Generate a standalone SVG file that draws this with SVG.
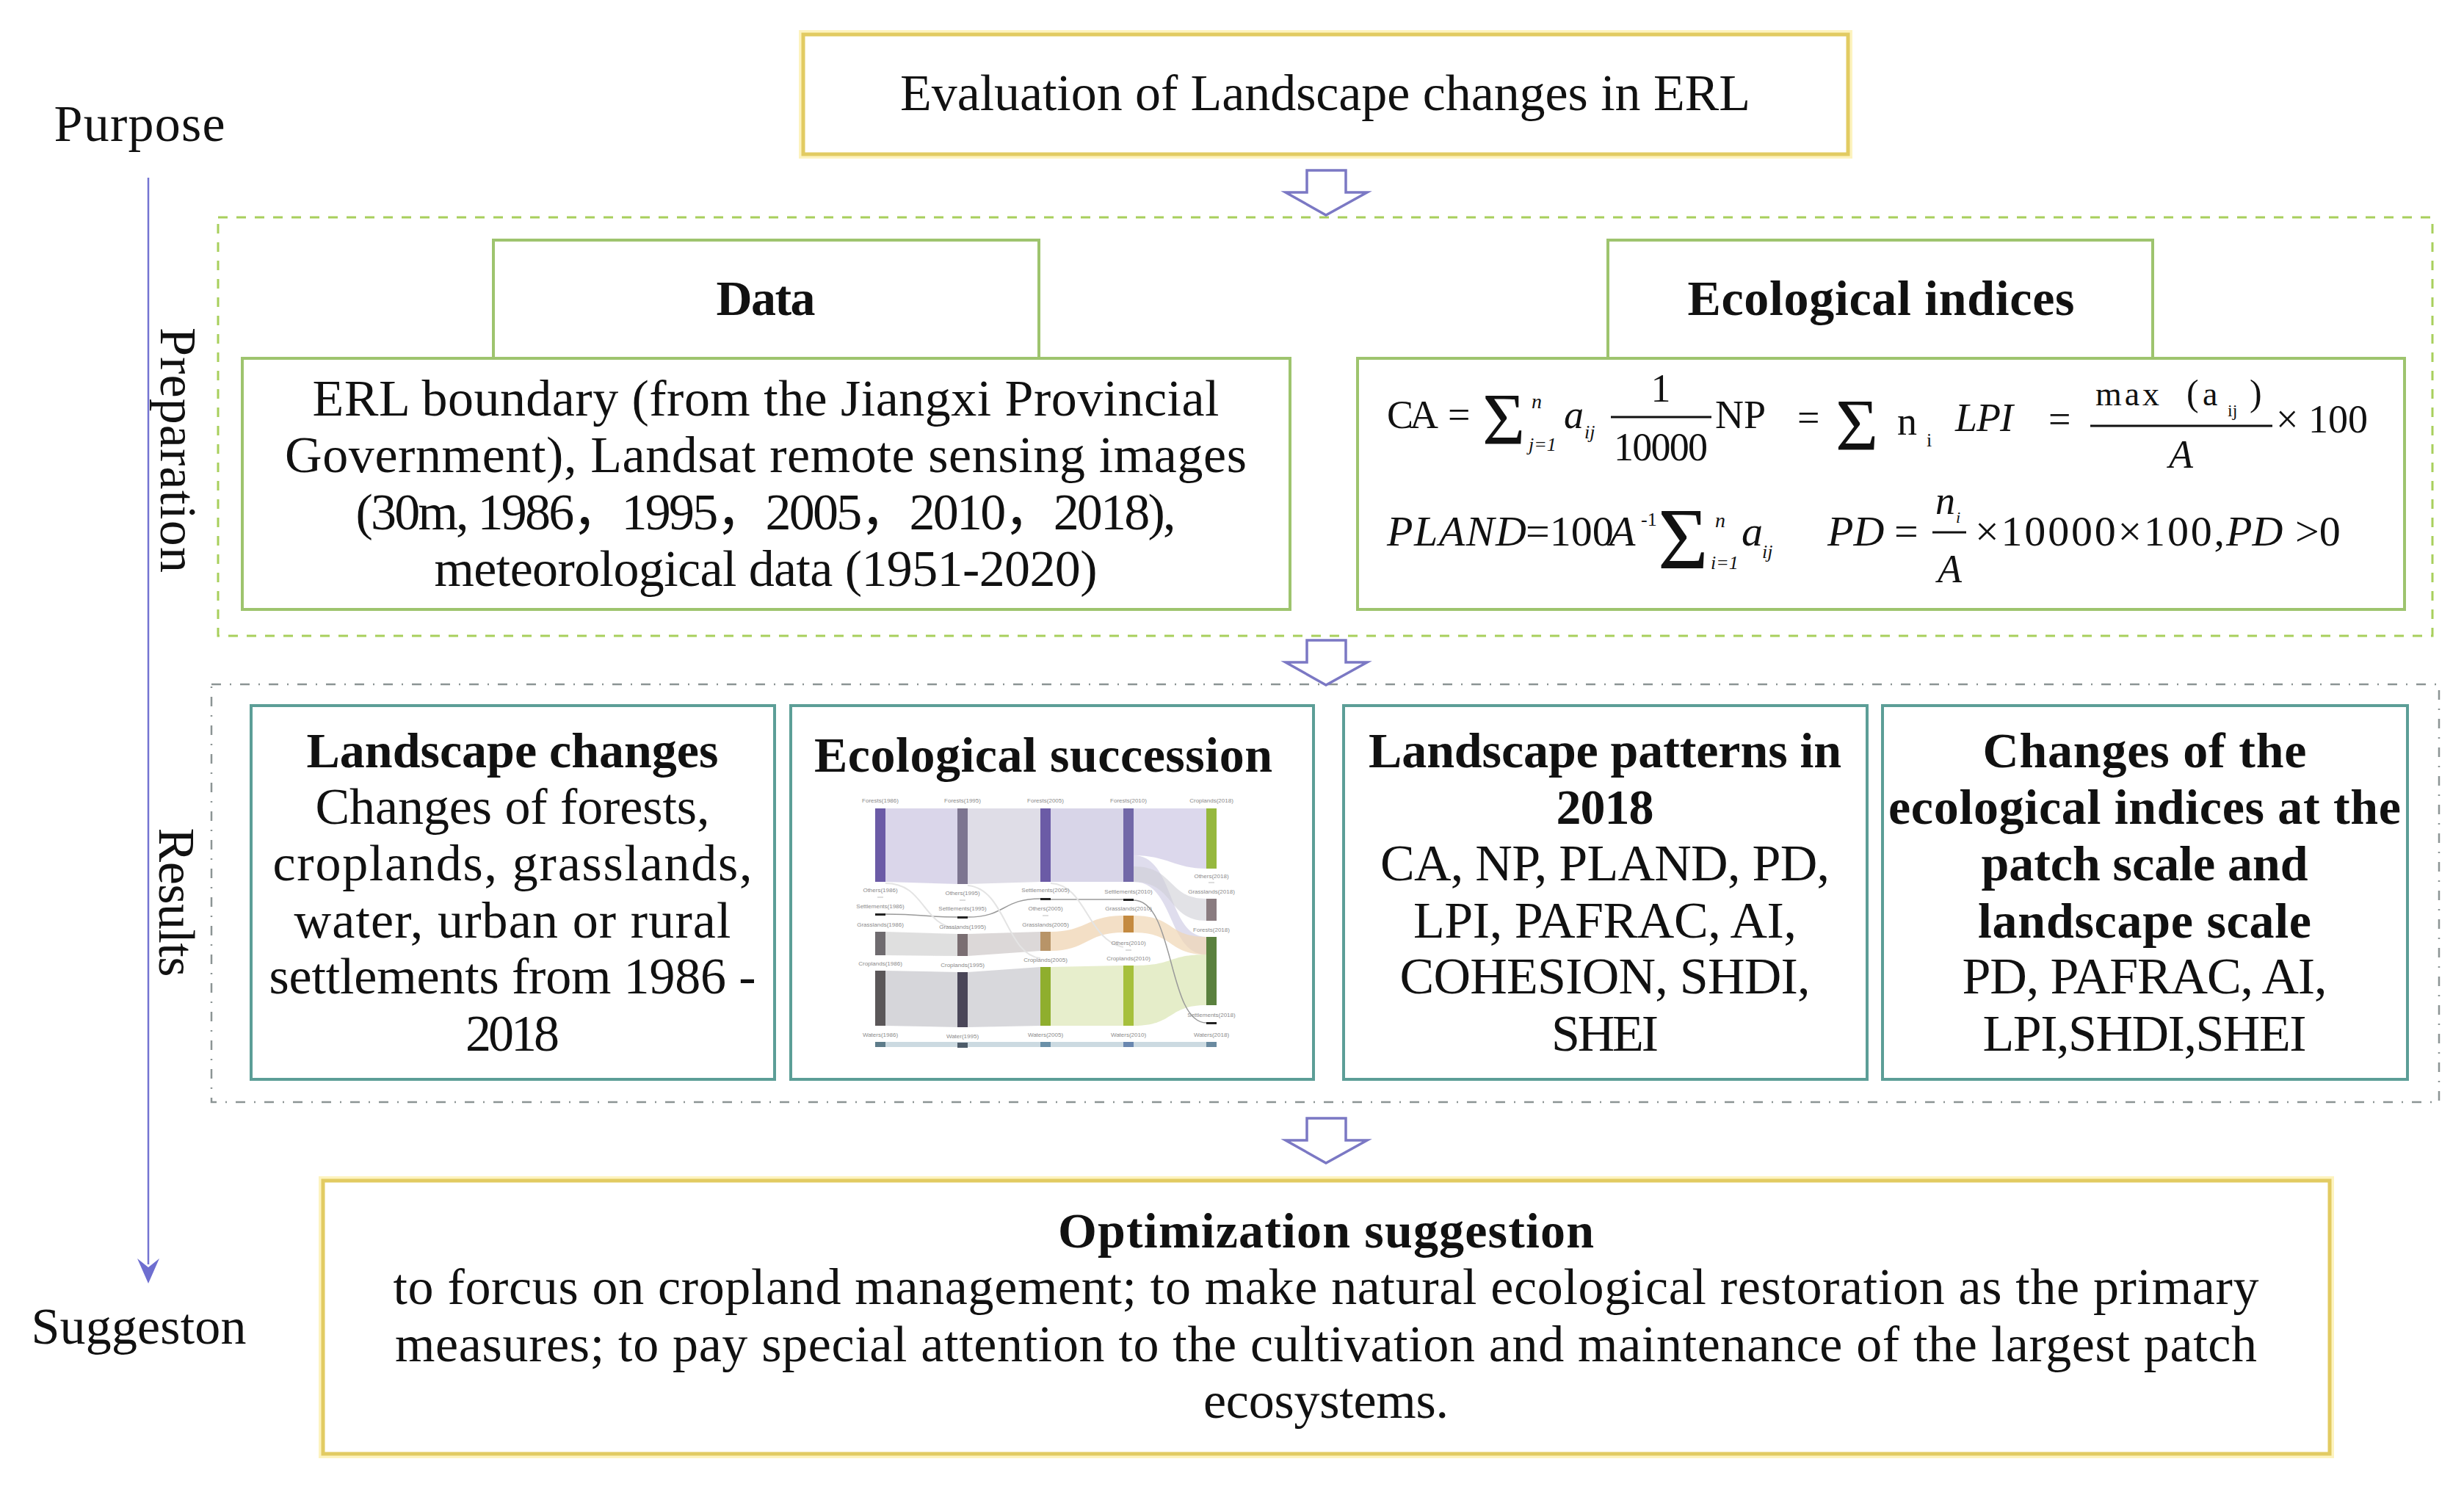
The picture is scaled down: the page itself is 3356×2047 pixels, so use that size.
<svg xmlns="http://www.w3.org/2000/svg" width="3356" height="2047" viewBox="0 0 3356 2047">
<defs>
<style>
.t{font-family:"Liberation Serif","Noto Sans CJK SC",serif;font-size:70px;fill:#111;}
.b{font-weight:bold;font-size:68px;}
.m{font-family:"Liberation Serif",serif;fill:#111;}
.i{font-style:italic;}
.gold{fill:#fff;stroke:#e2cb62;stroke-width:5;}
.goldglow{fill:none;stroke:#fdf3bf;stroke-width:12;}
.green{fill:#fff;stroke:#9ec46e;stroke-width:4;}
.teal{fill:#fff;stroke:#5c9e97;stroke-width:4;}
.arrow{fill:#fff;stroke:#7b78c4;stroke-width:3.5;stroke-linejoin:miter;}
.sl{font-family:"Liberation Sans",sans-serif;font-size:8px;fill:#8a8a8a;text-anchor:middle;}
.fl{opacity:0.9;}
</style>
<path id="hollow" d="M1780,0 L1833,0 L1833,30 L1862,30 L1806,61 L1751,30 L1780,30 Z"/>
</defs>
<rect width="3356" height="2047" fill="#fff"/>

<!-- side labels and timeline -->
<g id="timeline">
<text class="t" x="190" y="192" text-anchor="middle" textLength="233">Purpose</text>
<line x1="202" y1="242" x2="202" y2="1722" stroke="#7474d2" stroke-width="2.5"/>
<polygon points="187,1714 202,1748 217,1714 202,1726" fill="#6e6ed0"/>
<text class="t" transform="translate(219,613) rotate(90)" text-anchor="middle" textLength="334">Preparation</text>
<text class="t" transform="translate(217,1229) rotate(90)" text-anchor="middle" textLength="203">Results</text>
<text class="t" x="189" y="1830" text-anchor="middle" textLength="293">Suggeston</text>
</g>

<!-- container frames -->
<g id="preparation-frame">
<rect x="297" y="296" width="3016" height="570" fill="none" stroke="#a8cf5c" stroke-width="3" stroke-dasharray="13 12"/>
</g>
<g id="results-frame">
<rect x="288" y="932" width="3034" height="569" fill="none" stroke="#8c9494" stroke-width="2.5" stroke-dasharray="13 12 2 12"/>
</g>

<!-- connectors -->
<g id="connectors">
<use href="#hollow" class="arrow" transform="translate(0,232)"/>
<use href="#hollow" class="arrow" transform="translate(0,872)"/>
<use href="#hollow" class="arrow" transform="translate(0,1523)"/>
</g>

<g id="purpose">
<rect class="goldglow" x="1094" y="47" width="1423" height="163"/>
<rect class="gold" x="1094" y="47" width="1423" height="163"/>
<text class="t" x="1805" y="150" text-anchor="middle" textLength="1158">Evaluation of Landscape changes in ERL</text>
</g>

<g id="data">
<rect class="green" x="672" y="327" width="743" height="161"/>
<rect class="green" x="330" y="488" width="1427" height="342"/>
<text class="t b" x="1043" y="429" text-anchor="middle" textLength="135">Data</text>
<text class="t" x="1043" y="566" text-anchor="middle" textLength="1235">ERL boundary (from  the Jiangxi Provincial</text>
<text class="t" x="1043" y="643" text-anchor="middle" textLength="1310">Government), Landsat remote sensing images</text>
<text class="t" x="1043" y="721" text-anchor="middle" textLength="1117">(30m, 1986，1995，2005，2010，2018),</text>
<text class="t" x="1043" y="798" text-anchor="middle" textLength="903">meteorological data (1951-2020)</text>
</g>

<g id="ecological-indices">
<rect class="green" x="2190" y="327" width="742" height="161"/>
<rect class="green" x="1849" y="488" width="1426" height="342"/>
<text class="t b" x="2562" y="429" text-anchor="middle" textLength="527">Ecological indices</text>
<!-- formula line 1 -->
<text class="m" x="1889" y="583" font-size="54" textLength="70">CA</text>
<text class="m" x="1972" y="583" font-size="54">=</text>
<text class="m" x="2019" y="604" font-size="100">Σ</text>
<text class="m i" x="2086" y="556" font-size="28">n</text>
<text class="m i" x="2082" y="614" font-size="26">j=1</text>
<text class="m i" x="2130" y="583" font-size="54">a</text>
<text class="m i" x="2158" y="597" font-size="26">ij</text>
<text class="m" x="2262" y="547" font-size="54" text-anchor="middle">1</text>
<line x1="2194" y1="568" x2="2331" y2="568" stroke="#111" stroke-width="3"/>
<text class="m" x="2262" y="627" font-size="54" text-anchor="middle" textLength="128">10000</text>
<text class="m" x="2336" y="583" font-size="54">NP</text>
<text class="m" x="2448" y="587" font-size="54">=</text>
<text class="m" x="2500" y="612" font-size="100">Σ</text>
<text class="m" x="2584" y="592" font-size="54">n</text>
<text class="m" x="2624" y="608" font-size="26">i</text>
<text class="m i" x="2663" y="587" font-size="54" textLength="79">LPI</text>
<text class="m" x="2790" y="589" font-size="54">=</text>
<text class="m" x="2854" y="552" font-size="46" textLength="87">max</text>
<text class="m" x="2978" y="552" font-size="50">(</text>
<text class="m" x="3000" y="552" font-size="46">a</text>
<text class="m" x="3034" y="567" font-size="24">ij</text>
<text class="m" x="3064" y="552" font-size="50">)</text>
<line x1="2847" y1="580" x2="3095" y2="580" stroke="#111" stroke-width="3"/>
<text class="m i" x="2954" y="637" font-size="54">A</text>
<text class="m" x="3100" y="589" font-size="54">× 100</text>
<!-- formula line 2 -->
<text class="m i" x="1889" y="743" font-size="58" textLength="190">PLAND</text>
<text class="m" x="2078" y="743" font-size="58">=100</text>
<text class="m i" x="2192" y="743" font-size="58">A</text>
<text class="m" x="2235" y="716" font-size="26">-1</text>
<text class="m" x="2258" y="774" font-size="118">Σ</text>
<text class="m i" x="2336" y="718" font-size="28">n</text>
<text class="m i" x="2330" y="775" font-size="26">i=1</text>
<text class="m i" x="2372" y="743" font-size="58">a</text>
<text class="m i" x="2400" y="760" font-size="26">ij</text>
<text class="m i" x="2489" y="743" font-size="58">PD</text>
<text class="m" x="2580" y="743" font-size="58">=</text>
<text class="m i" x="2636" y="700" font-size="54">n</text>
<text class="m i" x="2664" y="712" font-size="22">i</text>
<line x1="2632" y1="725" x2="2678" y2="725" stroke="#111" stroke-width="3"/>
<text class="m i" x="2639" y="793" font-size="54">A</text>
<text class="m" x="2690" y="743" font-size="58" textLength="340">×10000×100,</text>
<text class="m i" x="3032" y="743" font-size="58">PD</text>
<text class="m" x="3126" y="743" font-size="58">&gt;0</text>
</g>

<g id="landscape-changes">
<rect class="teal" x="342" y="961" width="713" height="509"/>
<text class="t b" x="698" y="1045" text-anchor="middle" textLength="561">Landscape changes</text>
<text class="t" x="698" y="1122" text-anchor="middle" textLength="537">Changes of forests,</text>
<text class="t" x="698" y="1199" text-anchor="middle" textLength="653">croplands,  grasslands,</text>
<text class="t" x="698" y="1277" text-anchor="middle" textLength="595">water, urban or rural</text>
<text class="t" x="698" y="1353" text-anchor="middle" textLength="663">settlements from 1986 -</text>
<text class="t" x="698" y="1431" text-anchor="middle" textLength="128">2018</text>
</g>

<g id="ecological-succession">
<rect class="teal" x="1077" y="961" width="712" height="509"/>
<text class="t b" x="1421" y="1051" text-anchor="middle" textLength="624">Ecological succession</text>
<g id="sankey">
<path class="fl" fill="#d6d2e8" d="M1206,1101 L1304,1101 L1304,1204 L1206,1201 Z"/>
<path class="fl" fill="#dcd9e4" d="M1318,1101 L1417,1101 L1417,1201 L1318,1204 Z"/>
<path class="fl" fill="#d4d0e6" d="M1431,1101 L1530,1101 L1530,1201 L1431,1201 Z"/>
<path class="fl" fill="#d8d4ea" d="M1544,1101 L1643,1101 L1643,1183 C1600,1183 1590,1165 1544,1165 Z"/>
<path fill="#d2cee6" opacity="0.7" d="M1544,1165 C1600,1165 1590,1276 1643,1276 L1643,1300 C1590,1300 1600,1201 1544,1201 Z"/>
<path fill="#cfcfd6" opacity="0.6" d="M1544,1180 C1600,1180 1590,1224 1643,1224 L1643,1254 C1590,1254 1600,1201 1544,1201 Z"/>
<path class="fl" fill="#d2d2d6" d="M1206,1322 L1304,1324 L1304,1399 L1206,1397 Z"/>
<path class="fl" fill="#d4d4d8" d="M1318,1324 L1417,1317 L1417,1397 L1318,1399 Z"/>
<path class="fl" fill="#e4ecc6" d="M1431,1317 L1530,1315 L1530,1397 L1431,1397 Z"/>
<path fill="#e0eac0" opacity="0.85" d="M1544,1315 C1600,1315 1590,1300 1643,1300 L1643,1369 C1590,1369 1600,1397 1544,1397 Z"/>
<path class="fl" fill="#dcdcdc" d="M1206,1269 L1304,1272 L1304,1302 L1206,1301 Z"/>
<path class="fl" fill="#d8d4d4" d="M1318,1272 L1417,1269 L1417,1295 L1318,1302 Z"/>
<path class="fl" fill="#f2dcc0" d="M1431,1269 C1480,1269 1480,1247 1530,1247 L1530,1270 C1480,1270 1480,1295 1431,1295 Z"/>
<path fill="#f0d6b4" opacity="0.7" d="M1544,1247 C1600,1247 1590,1276 1643,1276 L1643,1300 C1590,1300 1600,1270 1544,1270 Z"/>
<path class="fl" fill="#c6d6de" d="M1206,1419 L1643,1419 L1643,1426 L1206,1426 Z"/>
<path fill="none" stroke="#9a9a9a" stroke-width="1.5" d="M1206,1245 C1260,1245 1255,1249 1304,1249 M1318,1249 C1370,1249 1365,1224 1417,1224 M1431,1225 L1530,1225 M1544,1226 C1600,1226 1590,1393 1643,1393"/>
<path fill="none" stroke="#e4e4e4" stroke-width="2" d="M1206,1203 C1260,1203 1255,1260 1304,1265 M1318,1206 C1370,1210 1370,1300 1417,1305 M1431,1203 C1480,1205 1480,1280 1530,1290"/>
<g>
<rect x="1192" y="1101" width="14" height="100" fill="#6b5ba6"/>
<rect x="1192" y="1244" width="14" height="3" fill="#222"/>
<rect x="1192" y="1269" width="14" height="32" fill="#6f6b6f"/>
<rect x="1192" y="1322" width="14" height="75" fill="#5b5759"/>
<rect x="1192" y="1419" width="14" height="7" fill="#5e7c8a"/>
<rect x="1304" y="1101" width="14" height="103" fill="#7d7590"/>
<rect x="1304" y="1248" width="14" height="3" fill="#222"/>
<rect x="1304" y="1272" width="14" height="30" fill="#7a6e72"/>
<rect x="1304" y="1324" width="14" height="75" fill="#4a4658"/>
<rect x="1304" y="1420" width="14" height="7" fill="#4e5c6a"/>
<rect x="1417" y="1101" width="14" height="100" fill="#6b5ba6"/>
<rect x="1417" y="1223" width="14" height="3" fill="#222"/>
<rect x="1417" y="1269" width="14" height="26" fill="#b89468"/>
<rect x="1417" y="1317" width="14" height="80" fill="#8fae2e"/>
<rect x="1417" y="1419" width="14" height="7" fill="#6a90a8"/>
<rect x="1530" y="1101" width="14" height="100" fill="#7268a8"/>
<rect x="1530" y="1224" width="14" height="3" fill="#222"/>
<rect x="1530" y="1247" width="14" height="23" fill="#c48a40"/>
<rect x="1530" y="1315" width="14" height="82" fill="#a6c03c"/>
<rect x="1530" y="1419" width="14" height="7" fill="#6a88b0"/>
<rect x="1643" y="1101" width="14" height="82" fill="#96b83e"/>
<rect x="1643" y="1224" width="14" height="30" fill="#8a7c80"/>
<rect x="1643" y="1276" width="14" height="93" fill="#5a803e"/>
<rect x="1643" y="1392" width="14" height="3" fill="#222"/>
<rect x="1643" y="1419" width="14" height="7" fill="#6a8aa0"/>
<path stroke="#bbb" stroke-width="1" d="M1195,1222 H1203 M1307,1226 H1315 M1420,1247 H1428 M1533,1294 H1541 M1646,1202 H1654"/>
</g>
<text class="sl" x="1199" y="1093">Forests(1986)</text>
<text class="sl" x="1199" y="1215">Others(1986)</text>
<text class="sl" x="1199" y="1237">Settlements(1986)</text>
<text class="sl" x="1199" y="1262">Grasslands(1986)</text>
<text class="sl" x="1199" y="1315">Croplands(1986)</text>
<text class="sl" x="1199" y="1412">Waters(1986)</text>
<text class="sl" x="1311" y="1093">Forests(1995)</text>
<text class="sl" x="1311" y="1219">Others(1995)</text>
<text class="sl" x="1311" y="1240">Settlements(1995)</text>
<text class="sl" x="1311" y="1265">Grasslands(1995)</text>
<text class="sl" x="1311" y="1317">Croplands(1995)</text>
<text class="sl" x="1311" y="1414">Water(1995)</text>
<text class="sl" x="1424" y="1093">Forests(2005)</text>
<text class="sl" x="1424" y="1215">Settlements(2005)</text>
<text class="sl" x="1424" y="1240">Others(2005)</text>
<text class="sl" x="1424" y="1262">Grasslands(2005)</text>
<text class="sl" x="1424" y="1310">Croplands(2005)</text>
<text class="sl" x="1424" y="1412">Waters(2005)</text>
<text class="sl" x="1537" y="1093">Forests(2010)</text>
<text class="sl" x="1537" y="1217">Settlements(2010)</text>
<text class="sl" x="1537" y="1240">Grasslands(2010)</text>
<text class="sl" x="1537" y="1287">Others(2010)</text>
<text class="sl" x="1537" y="1308">Croplands(2010)</text>
<text class="sl" x="1537" y="1412">Waters(2010)</text>
<text class="sl" x="1650" y="1093">Croplands(2018)</text>
<text class="sl" x="1650" y="1196">Others(2018)</text>
<text class="sl" x="1650" y="1217">Grasslands(2018)</text>
<text class="sl" x="1650" y="1269">Forests(2018)</text>
<text class="sl" x="1650" y="1385">Settlements(2018)</text>
<text class="sl" x="1650" y="1412">Waters(2018)</text>
</g>
</g>

<g id="landscape-patterns">
<rect class="teal" x="1830" y="961" width="713" height="509"/>
<text class="t b" x="2186" y="1045" text-anchor="middle" textLength="644">Landscape patterns in</text>
<text class="t b" x="2186" y="1122" text-anchor="middle" textLength="133">2018</text>
<text class="t" x="2186" y="1199" text-anchor="middle" textLength="612">CA, NP, PLAND, PD,</text>
<text class="t" x="2186" y="1277" text-anchor="middle" textLength="522">LPI, PAFRAC, AI,</text>
<text class="t" x="2186" y="1353" text-anchor="middle" textLength="559">COHESION, SHDI,</text>
<text class="t" x="2186" y="1431" text-anchor="middle" textLength="146">SHEI</text>
</g>

<g id="indices-changes">
<rect class="teal" x="2564" y="961" width="715" height="509"/>
<text class="t b" x="2921" y="1045" text-anchor="middle" textLength="441">Changes of the</text>
<text class="t b" x="2921" y="1122" text-anchor="middle" textLength="698">ecological indices at the</text>
<text class="t b" x="2921" y="1199" text-anchor="middle" textLength="445">patch scale and</text>
<text class="t b" x="2921" y="1277" text-anchor="middle" textLength="454">landscape scale</text>
<text class="t" x="2921" y="1353" text-anchor="middle" textLength="497">PD, PAFRAC, AI,</text>
<text class="t" x="2921" y="1431" text-anchor="middle" textLength="441">LPI,SHDI,SHEI</text>
</g>

<g id="optimization">
<rect class="goldglow" x="440" y="1608" width="2733" height="372"/>
<rect class="gold" x="440" y="1608" width="2733" height="372"/>
<text class="t b" x="1806" y="1699" text-anchor="middle" textLength="730">Optimization suggestion</text>
<text class="t" x="1806" y="1776" text-anchor="middle" textLength="2541">to forcus on cropland management; to make natural ecological restoration as the primary</text>
<text class="t" x="1806" y="1854" text-anchor="middle" textLength="2536">measures; to pay special attention to the cultivation and maintenance of the largest patch</text>
<text class="t" x="1806" y="1931" text-anchor="middle" textLength="334">ecosystems.</text>
</g>
</svg>
